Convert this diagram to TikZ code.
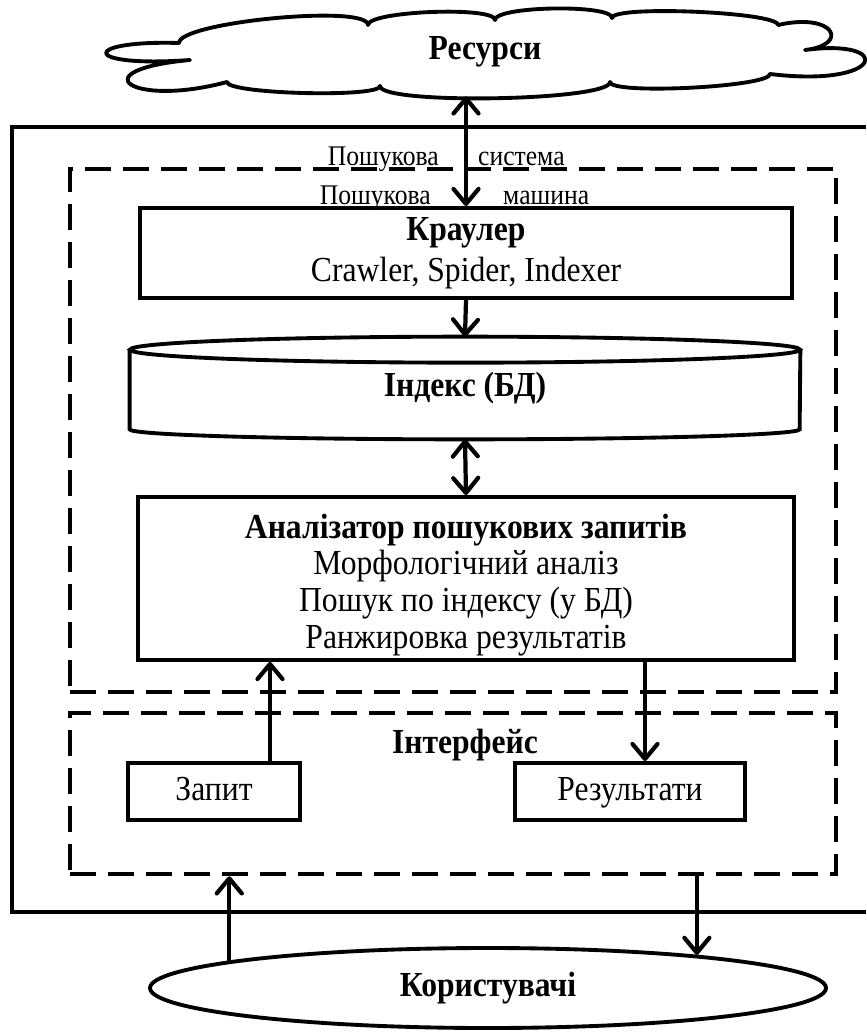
\documentclass[tikz,border=0pt]{standalone}
\usepackage{fontspec}
\setmainfont{Liberation Serif}[FakeStretch=0.9]
\usetikzlibrary{arrows.meta,shapes.geometric,positioning}
\newlength\pxu
\setlength\pxu{0.02cm}

\begin{document}
\begin{tikzpicture}[x=0.02cm,y=-0.02cm,
  >={Straight Barb[length=0.3cm,width=0.5cm,round]},
  box/.style={draw,line width=2.2pt,rectangle,inner sep=0pt},
  zone/.style={draw,line width=2.6pt,dash pattern=on 0.52cm off 0.24cm,inner sep=0pt},
  arr/.style={line width=2.4pt},
  txt/.style={font=\fontsize{20}{20.2}\selectfont,align=center},
  btxt/.style={font=\fontsize{20}{20.2}\selectfont\bfseries,align=center},
  lbl/.style={font=\fontsize{16.2}{17}\selectfont}]

\useasboundingbox (0,0) rectangle (866,1034);

% resources
\node[minimum width=760\pxu,minimum height=88\pxu,inner sep=0pt,btxt] (res) at (485,52) {Ресурси};
\draw[line width=2.2pt,line join=round]
  (179,43) .. controls (179,22) and (368,4) .. (368,25)
  .. controls (368,11) and (495,6) .. (495,20)
  .. controls (495,6) and (612,4) .. (612,18)
  .. controls (612,5) and (778,12) .. (778,25)
  .. controls (835,12) and (850,45) .. (805,50)
  .. controls (895,38) and (885,88) .. (770,74)
  .. controls (770,87) and (610,95) .. (610,82)
  .. controls (610,101) and (380,105) .. (380,86)
  .. controls (380,98) and (227,94) .. (227,82)
  .. controls (130,108) and (80,70) .. (190,60)
  .. controls (80,68) and (80,40) .. (179,43) -- cycle;

% outer frame
\draw[line width=2.2pt] (866,127) -| (12,912) -- (866,912);

% search engine
\node[zone,minimum width=766\pxu,minimum height=523\pxu] (eng) at (453,430.5) {};
\node[lbl,anchor=base east] (sys1) at (445,165) {Пошукова};
\node[lbl,anchor=base west] (sys2) at (472,165) {система};
\node[lbl,anchor=base east] (mach1) at (437,204) {Пошукова};
\node[lbl,anchor=base west] (mach2) at (497,204) {машина};

\node[box,minimum width=652\pxu,minimum height=90\pxu,txt] (crw) at (466,253)
  {\textbf{Краулер}\\[3pt]Crawler, Spider, Indexer};

% index
\node[minimum width=670\pxu,minimum height=102\pxu,inner sep=0pt,btxt] (idx) at (465,388) {Індекс (БД)};
\draw[line width=2.2pt] ([yshift=-13\pxu]idx.north) ellipse [x radius=335\pxu,y radius=13\pxu];
\draw[line width=2.2pt] ([yshift=-13\pxu]idx.north west) -- ([yshift=10\pxu]idx.south west)
  arc[start angle=180,end angle=360,x radius=335\pxu,y radius=10\pxu] -- ([yshift=-13\pxu]idx.north east);

% analyser
\node[box,minimum width=656\pxu,minimum height=163\pxu] (ana) at (466,578.5) {};
\node[txt,font=\fontsize{20}{21}\selectfont] (anatxt) at (466,585) {\textbf{Аналізатор пошукових запитів}\\
  Морфологічний аналіз\\Пошук по індексу (у БД)\\Ранжировка результатів};

% interface
\node[zone,minimum width=766\pxu,minimum height=161\pxu] (intf) at (453,793.5) {};
\node[btxt] (intftxt) at (465,745) {Інтерфейс};
\node[box,minimum width=172\pxu,minimum height=57\pxu,txt,text height=14pt,text depth=4pt] (zap) at (214,791.5) {Запит};
\node[box,minimum width=230\pxu,minimum height=57\pxu,txt,text height=14pt,text depth=4pt] (rez) at (630,791.5) {Результати};

% users
\node[ellipse,draw,line width=2.2pt,minimum width=676\pxu,minimum height=80\pxu,btxt] (usr) at (488,988) {Користувачі};

% connectors
\draw[arr,<->] (crw.north |- res.south) -- (crw.north);
\draw[arr,->] (crw.south) -- (idx.north);
\draw[arr,<->] (idx.south) -- (ana.north);
\draw[arr,->] (ana.south -| 645,0) -- (rez.north -| 645,0);
\draw[arr,->] (zap.north -| 270,0) -- (ana.south -| 270,0);
\draw[arr,->] (usr.174.4) -- (usr.174.4 |- intf.south);
\draw[arr,->] (intf.south -| usr.9.15) -- (usr.9.15);

\end{tikzpicture}
\end{document}
